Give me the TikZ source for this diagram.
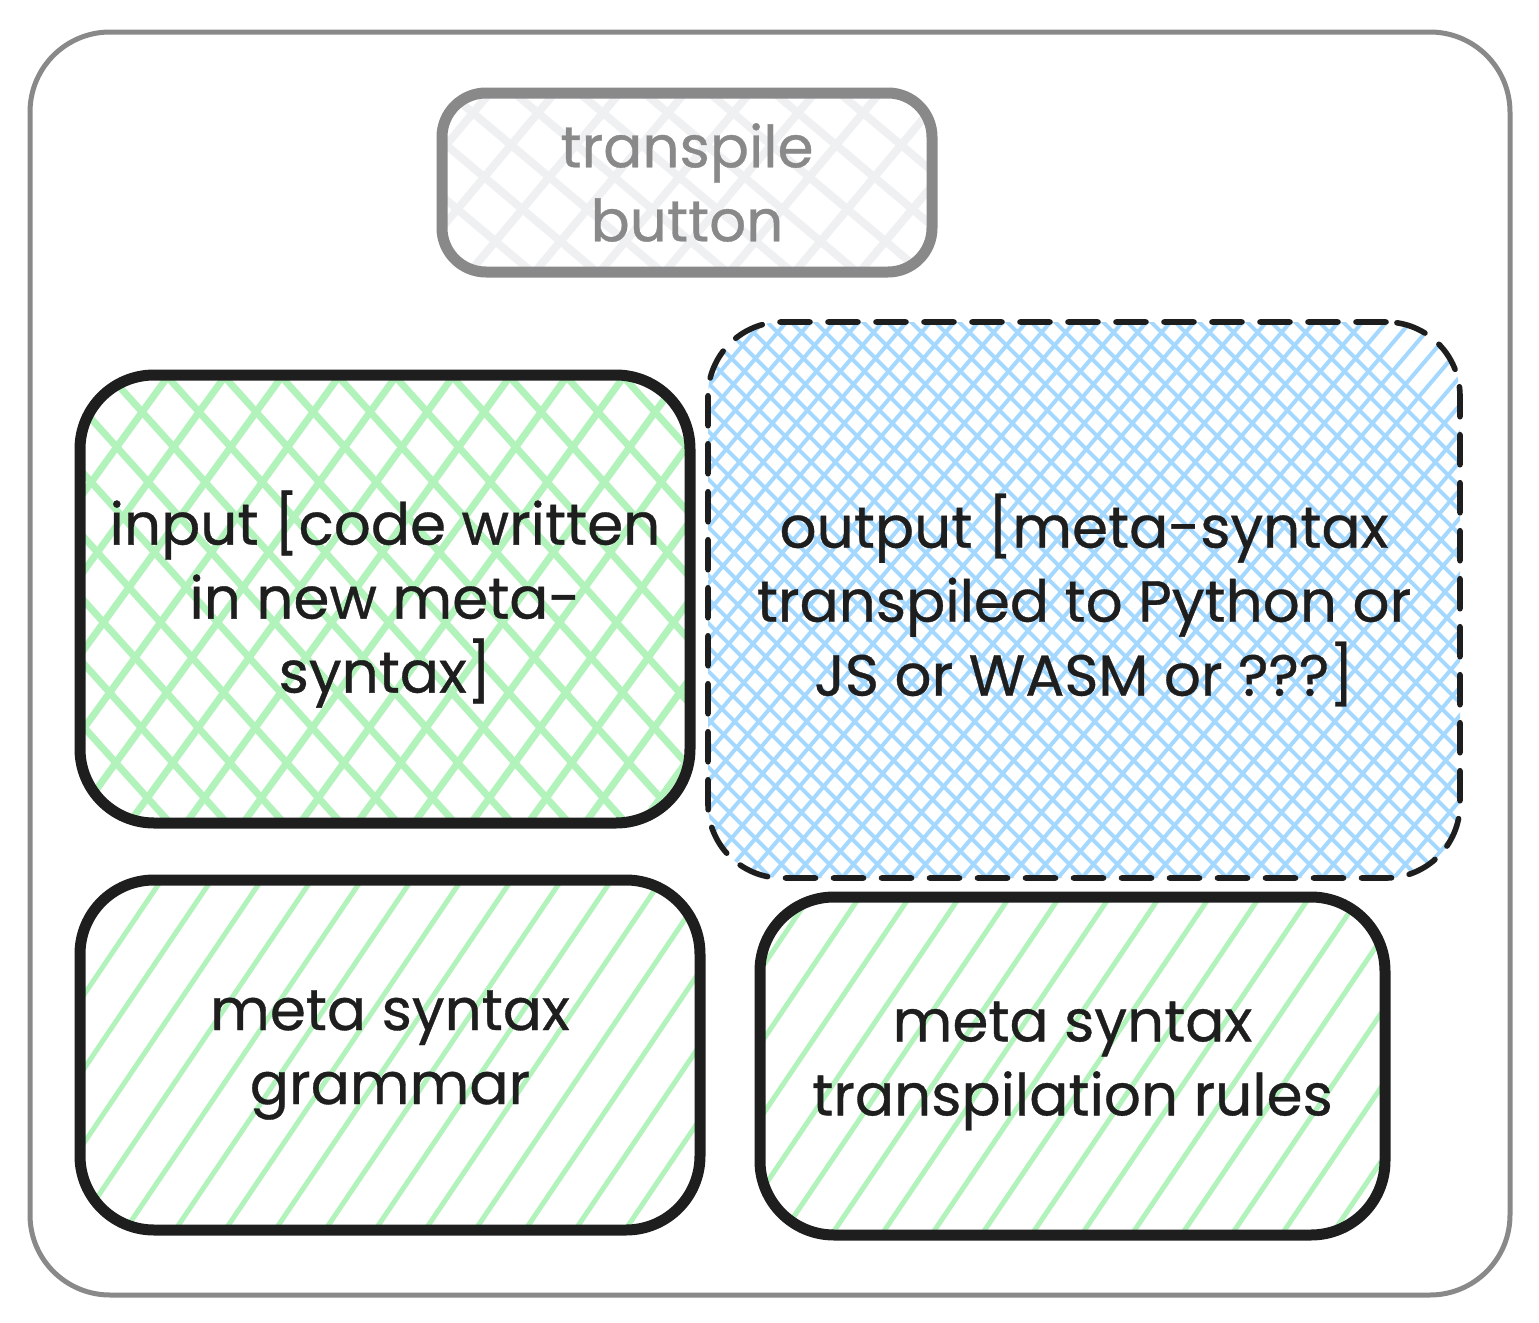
\documentclass[tikz,border=0pt]{standalone}
\usepackage{fontspec}
\setmainfont{Poppins}[FakeBold=0.6]
\usepackage{tikz}
\definecolor{ink}{HTML}{1E1E1E}
\definecolor{greyink}{HTML}{898989}
\definecolor{mint}{HTML}{B2F2BB}
\definecolor{sky}{HTML}{A5D8FF}
\definecolor{mist}{HTML}{EEF0F2}
\tikzset{
  hatch/.style n args={4}{path picture={
      \begin{scope}[shift={(path picture bounding box.center)}]
        \foreach \k [evaluate=\k as \i using \k*#3] in {-40,...,40}
          \draw[#1, solid, line width=#2, line cap=round] (\i-#4,400) -- (\i+#4,-400);
      \end{scope}}},
  crosshatch/.style n args={5}{path picture={
      \begin{scope}[shift={(path picture bounding box.center)}]
        \foreach \k [evaluate=\k as \i using \k*#3] in {-40,...,40} {
          \draw[#1, solid, line width=#2, line cap=round] (\i-#4,400) -- (\i+#4,-400);
          \draw[#1, solid, line width=#2, line cap=round] (\i-#5,-400) -- (\i+#5,400);
        }
      \end{scope}}},
}

\begin{document}
\begin{tikzpicture}[
    x=0.5pt, y=-0.5pt,
    box/.style={draw=ink, line width=5.5pt, rounded corners=37pt, inner sep=0pt,
      align=center, text=ink, font=\fontsize{29}{37}\selectfont}
  ]
  \useasboundingbox (0,0) rectangle (1539,1323);
  \node[draw=greyink, line width=2.5pt, rounded corners=40pt,
    minimum width=740pt, minimum height=631.5pt] (frame) at (770,663.5) {};
  \node[box, draw=greyink, text=greyink, rounded corners=22pt,
    minimum width=245pt, minimum height=89.5pt,
    crosshatch={mist}{4pt}{65}{335}{475}] (button) at (687,182.5) {transpile\\button};
  \node[box, minimum width=305pt, minimum height=224pt,
    crosshatch={mint}{3.5pt}{57}{290}{360}] (input) at (385,599)
    {input [code written\\in new meta-\\syntax]};
  \node[box, line width=2.8pt, dash pattern=on 15pt off 9pt, line cap=round,
    minimum width=376pt, minimum height=278pt,
    crosshatch={sky}{2pt}{24}{340}{400}] (output) at (1084,600)
    {output [meta-syntax\\transpiled to Python or\\JS or WASM or ???]};
  \node[box, minimum width=310pt, minimum height=175pt,
    hatch={mint}{2.5pt}{50}{270}] (grammar) at (390,1055)
    {meta syntax\\grammar};
  \node[box, minimum width=312.5pt, minimum height=169pt,
    hatch={mint}{2.5pt}{50}{270}] (rules) at (1072.5,1066)
    {meta syntax\\transpilation rules};
\end{tikzpicture}
\end{document}
